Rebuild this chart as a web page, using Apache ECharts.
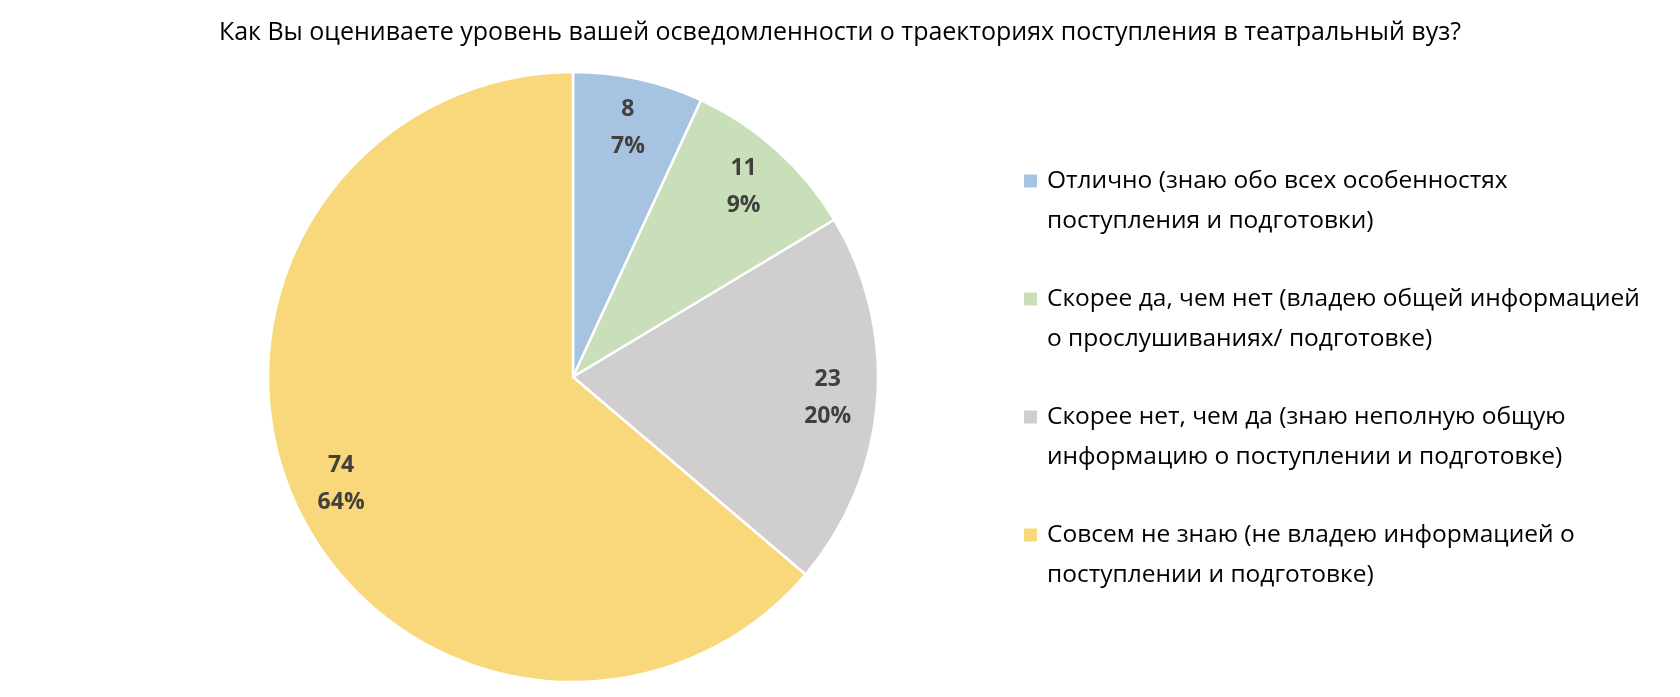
<!DOCTYPE html>
<html><head><meta charset="utf-8">
<script src="https://cdn.jsdelivr.net/npm/echarts@6/dist/echarts.min.js"></script>
<style>html,body{margin:0;padding:0;background:#fff}#c{width:1680px;height:697px}</style>
</head><body><div id="c"></div>
<script>
const titleText = 'Как Вы оцениваете уровень вашей осведомленности о траекториях поступления в театральный вуз?';
const categories = [
  'Отлично (знаю обо всех особенностях\nпоступления и подготовки)',
  'Скорее да, чем нет (владею общей информацией\nо прослушиваниях/ подготовке)',
  'Скорее нет, чем да (знаю неполную общую\nинформацию о поступлении и подготовке)',
  'Совсем не знаю (не владею информацией о\nпоступлении и подготовке)'
];
const values = [8, 11, 23, 74];
const colors = ['#A6C3E2', '#C9DFB9', '#D0CECE', '#F9D77B'];

const FONT = 'Open Sans';
const data = categories.map((n, i) => ({ name: n, value: values[i], itemStyle: { color: colors[i] } }));
const chart = echarts.init(document.getElementById('c'), null, { renderer: 'canvas' });
chart.setOption({
  animation: false,
  backgroundColor: '#fff',
  title: {
    text: titleText, left: 'center', top: 15,
    textStyle: { fontFamily: FONT, fontSize: 25, fontWeight: 'normal', color: '#000' }
  },
  legend: {
    orient: 'vertical', left: 1024, top: 161, padding: 0,
    icon: 'path://M0,0H13V13H0Z M0,53H18',
    itemWidth: 18, itemHeight: 53, itemGap: 38,
    itemStyle: { borderWidth: 0, borderColor: 'transparent' },
    textStyle: { fontFamily: FONT, fontSize: 24.5, color: '#000', lineHeight: 40 },
    data: categories
  },
  series: [{
    type: 'pie', center: [573, 377], radius: [0, 305], startAngle: 90, clockwise: true,
    itemStyle: { borderColor: '#fff', borderWidth: 2.5 },
    label: { show: false }, labelLine: { show: false },
    data: data
  }, {
    type: 'pie', center: [573, 377], radius: [200, 305], startAngle: 90, clockwise: true, silent: true,
    itemStyle: { color: 'transparent', borderWidth: 0 },
    label: {
      show: true, position: 'inside', fontFamily: FONT, fontSize: 23, fontWeight: 'bold', color: '#404040', lineHeight: 37,
      formatter: p => p.value + '\n' + Math.round(p.percent) + '%'
    },
    labelLine: { show: false },
    data: categories.map((n, i) => ({ name: n, value: values[i], itemStyle: { color: 'transparent' } }))
  }]
});
</script></body></html>
